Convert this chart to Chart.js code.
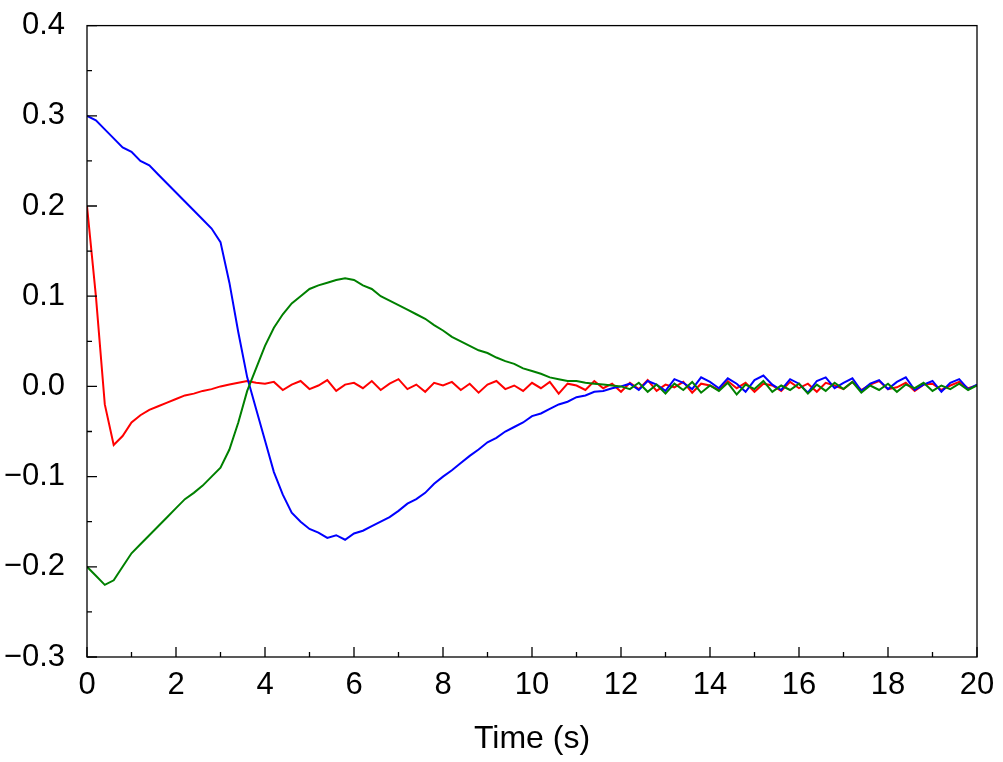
<!DOCTYPE html>
<html><head><meta charset="utf-8">
<script src="https://cdn.jsdelivr.net/npm/chart.js@4"></script>
<style>html,body{margin:0;padding:0;background:#fff;overflow:hidden}#w{width:1003px;height:769px;margin-top:-7px}</style>
</head><body><div id="w"><canvas id="c"></canvas></div>
<script>
const time = [0,0.2,0.4,0.6,0.8,1,1.2,1.4,1.6,1.8,2,2.2,2.4,2.6,2.8,3,3.2,3.4,3.6,3.8,4,4.2,4.4,4.6,4.8,5,5.2,5.4,5.6,5.8,6,6.2,6.4,6.6,6.8,7,7.2,7.4,7.6,7.8,8,8.2,8.4,8.6,8.8,9,9.2,9.4,9.6,9.8,10,10.2,10.4,10.6,10.8,11,11.2,11.4,11.6,11.8,12,12.2,12.4,12.6,12.8,13,13.2,13.4,13.6,13.8,14,14.2,14.4,14.6,14.8,15,15.2,15.4,15.6,15.8,16,16.2,16.4,16.6,16.8,17,17.2,17.4,17.6,17.8,18,18.2,18.4,18.6,18.8,19,19.2,19.4,19.6,19.8,20];
const blue = [0.30,0.295,0.285,0.275,0.265,0.26,0.25,0.245,0.235,0.225,0.215,0.205,0.195,0.185,0.175,0.16,0.115,0.06,0.01,-0.025,-0.06,-0.095,-0.12,-0.14,-0.15,-0.158,-0.162,-0.168,-0.165,-0.17,-0.163,-0.16,-0.155,-0.15,-0.145,-0.138,-0.13,-0.125,-0.118,-0.108,-0.1,-0.093,-0.085,-0.077,-0.07,-0.062,-0.057,-0.05,-0.045,-0.04,-0.033,-0.03,-0.025,-0.02,-0.017,-0.012,-0.01,-0.006,-0.005,-0.002,0.0,
0.003,-0.004,0.006,0.002,-0.005,0.008,0.004,-0.003,0.01,0.005,-0.002,0.009,0.003,-0.006,0.007,0.012,0.002,-0.004,0.008,0.003,-0.007,0.006,0.01,-0.002,0.004,0.009,-0.005,0.003,0.007,-0.003,0.005,0.01,-0.004,0.002,0.006,-0.006,0.004,0.008,-0.003,0.002];
const green = [-0.20,-0.21,-0.22,-0.215,-0.2,-0.185,-0.175,-0.165,-0.155,-0.145,-0.135,-0.125,-0.118,-0.11,-0.1,-0.09,-0.07,-0.04,-0.005,0.02,0.045,0.065,0.08,0.092,0.1,0.108,0.112,0.115,0.118,0.12,0.118,0.112,0.108,0.1,0.095,0.09,0.085,0.08,0.075,0.068,0.062,0.055,0.05,0.045,0.04,0.037,0.032,0.028,0.025,0.02,0.017,0.014,0.01,0.008,0.006,0.006,0.004,0.003,0.002,0.001,0.0,
-0.003,0.004,-0.006,0.002,-0.008,0.003,-0.004,0.005,-0.007,0.001,-0.005,0.004,-0.009,0.002,-0.003,0.006,-0.006,0.001,-0.004,0.003,-0.008,0.002,-0.005,0.004,-0.003,0.005,-0.007,0.001,-0.004,0.003,-0.006,0.002,-0.002,0.004,-0.005,0.001,-0.003,0.003,-0.004,0.001];
const red = [0.20,0.10,-0.02,-0.065,-0.055,-0.04,-0.032,-0.026,-0.022,-0.018,-0.014,-0.01,-0.008,-0.005,-0.003,0.0,0.002,0.004,0.006,0.004,0.003,
0.005,-0.004,0.002,0.006,-0.003,0.001,0.007,-0.005,0.002,0.004,
-0.002,0.006,-0.004,0.003,0.008,-0.003,0.002,-0.006,0.004,0.001,
0.005,-0.004,0.003,-0.007,0.002,0.006,-0.003,0.001,-0.005,0.004,
-0.002,0.005,-0.008,0.003,0.001,-0.004,0.006,-0.002,0.003,-0.006,
0.004,-0.003,0.007,-0.005,0.002,-0.001,0.005,-0.007,0.003,0.001,
-0.004,0.006,-0.002,0.004,-0.006,0.003,0.001,-0.005,0.005,-0.002,
0.003,-0.006,0.004,0.001,-0.003,0.005,-0.004,0.002,0.006,-0.003,
-0.001,0.004,-0.005,0.002,0.003,-0.004,0.001,0.005,-0.002,0.001];
const xTicks = [0,2,4,6,8,10,12,14,16,18,20];
const yTicks = [-0.3,-0.2,-0.1,0.0,0.1,0.2,0.3,0.4];

const pts = a => a.map((v,i)=>({x:time[i],y:v}));
const FONT = "'Liberation Sans', Arial, sans-serif";
const frame = {
  id:'frame',
  afterDraw(ch){
    const {ctx,chartArea:a,scales:{x,y}} = ch;
    ctx.save(); ctx.strokeStyle='#000'; ctx.lineWidth=1.3;
    ctx.strokeRect(a.left,a.top,a.right-a.left,a.bottom-a.top);
    ctx.beginPath();
    for(let v=0; v<=20; v+=1){ const px=x.getPixelForValue(v); const L = v%2===0?10:5; ctx.moveTo(px,a.bottom); ctx.lineTo(px,a.bottom-L); }
    for(let k=-6; k<=8; k++){ const v=k*0.05; const py=y.getPixelForValue(v); const L = k%2===0?10:5; ctx.moveTo(a.left,py); ctx.lineTo(a.left+L,py); }
    ctx.stroke(); ctx.restore();
  }
};
new Chart(document.getElementById('c'),{
  type:'line',
  data:{datasets:[
    {data:pts(green),borderColor:'#008000',borderWidth:2,pointRadius:0,tension:0},
    {data:pts(blue),borderColor:'#0000ff',borderWidth:2,pointRadius:0,tension:0},
    {data:pts(red),borderColor:'#ff0000',borderWidth:2,pointRadius:0,tension:0}
  ]},
  options:{
    responsive:true,maintainAspectRatio:false,animation:false,
    layout:{padding:{top:18,right:26,left:0,bottom:0}},
    plugins:{legend:{display:false},tooltip:{enabled:false}},
    scales:{
      x:{type:'linear',min:0,max:20,
        afterBuildTicks:s=>{s.ticks=xTicks.map(v=>({value:v}));},
        afterFit:s=>{s.height=105;},
        grid:{display:false},border:{display:false},
        ticks:{color:'#000',font:{family:FONT,size:31},padding:2,maxRotation:0},
        title:{display:true,text:'Time (s)',color:'#000',font:{family:FONT,size:32},padding:{top:6}}},
      y:{min:-0.3,max:0.4,
        afterBuildTicks:s=>{s.ticks=yTicks.map(v=>({value:v}));},
        afterFit:s=>{s.width=87;},
        grid:{display:false},border:{display:false},
        ticks:{color:'#000',font:{family:FONT,size:31},padding:14,
          callback:v=>{const s=Math.abs(v).toFixed(1); return v< -1e-9?'\u2212'+s:s;}}}
    }
  },
  plugins:[frame]
});
</script></body></html>
